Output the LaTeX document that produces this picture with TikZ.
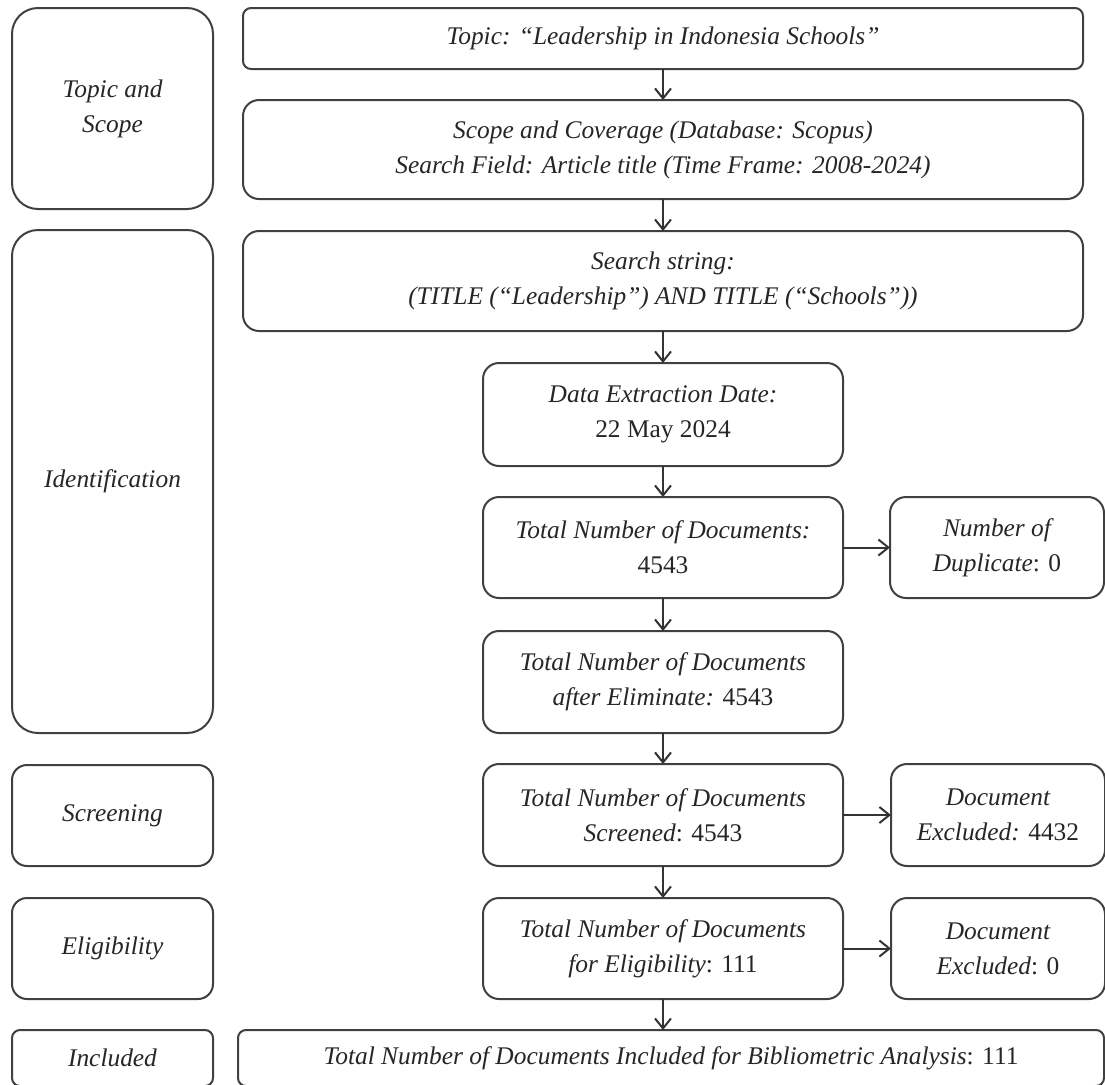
\documentclass[tikz,border=0pt]{standalone}
\usepackage{fontspec}
\setmainfont{Liberation Serif}
\usetikzlibrary{shapes,arrows.meta,positioning}

\begin{document}
\begin{tikzpicture}[x=0.5pt,y=-0.5pt]
    % Define Styles
        \tikzstyle{block} = [rectangle, draw=black!75, fill=white, align=center, inner sep=0pt, outer sep=0pt, rounded corners=8pt, line width=0.1em, text=black!85, font=\fontsize{12.7}{17.5}\selectfont\itshape]
        \tikzstyle{wide} = [block, minimum width=420pt]
        \tikzstyle{mid} = [block, minimum width=180pt]
        \tikzstyle{side} = [block, minimum width=107pt]
        \tikzstyle{stage} = [block, minimum width=100.5pt, rounded corners=7.5pt]
        \tikzstyle{line} = [draw=black!80, -{Straight Barb[length=5pt,width=8pt]}, line width=0.1em]
        \path[use as bounding box, clip] (0,0) rectangle (1105,1084);
    % Stages on the left
        \node [stage, minimum height=100.5pt, rounded corners=13pt] (topicscope) at (112.5,108.5) {Topic and\\Scope};
        \node [stage, minimum height=251.5pt, rounded corners=13pt] (identification) at (112.5,481.5) {Identification};
        \node [stage, minimum height=50.5pt] (screening) at (112.5,815.5) {Screening};
        \node [stage, minimum height=50.5pt] (eligibility) at (112.5,948.5) {Eligibility};
        \node [stage, minimum height=28pt, rounded corners=4pt] (included) at (112.5,1058) {Included};
    % Place nodes
        \node [wide, minimum height=30.5pt, rounded corners=4pt] (topic) at (663,38.5) {Topic: “Leadership in Indonesia Schools”};
        \node [wide, minimum height=49.5pt, below = 15.5pt of topic] (scope) {Scope and Coverage (Database: Scopus)\\Search Field: Article title (Time Frame: 2008-2024)};
        \node [wide, minimum height=50pt, below = 16pt of scope] (search) {Search string:\\(TITLE (“Leadership”) AND TITLE (“Schools”))};
        \node [mid, minimum height=51.5pt, below = 16pt of search] (extract) {Data Extraction Date:\\\textup{22 May 2024}};
        \node [mid, minimum height=50.5pt, below = 15.5pt of extract] (total) {Total Number of Documents:\\\textup{4543}};
        \node [side, minimum height=50.5pt, right = 23.5pt of total] (duplicate) {Number of\\Duplicate\textup{: 0}};
        \node [mid, minimum height=51pt, below = 16.5pt of total] (eliminate) {Total Number of Documents\\after Eliminate: \textup{4543}};
        \node [mid, minimum height=51pt, below = 15.5pt of eliminate] (screened) {Total Number of Documents\\Screened\textup{: 4543}};
        \node [side, minimum height=51pt, right = 24pt of screened] (excluded) {Document\\Excluded: \textup{4432}};
        \node [mid, minimum height=50.5pt, below = 16pt of screened] (eligible) {Total Number of Documents\\for Eligibility\textup{: 111}};
        \node [side, minimum height=50.5pt, right = 24pt of eligible] (excludedtwo) {Document\\Excluded\textup{: 0}};
        \node [block, minimum width=433pt, minimum height=28pt, rounded corners=4pt, below = 15.5pt of eligible, xshift=4pt] (final) {Total Number of Documents Included for Bibliometric Analysis\textup{: 111}};
    % Edges
        \draw[line] (topic) -- (scope);
        \draw[line] (scope) -- (search);
        \draw[line] (search) -- (extract);
        \draw[line] (extract) -- (total);
        \draw[line] (total) -- (duplicate);
        \draw[line] (total) -- (eliminate);
        \draw[line] (eliminate) -- (screened);
        \draw[line] (screened) -- (excluded);
        \draw[line] (screened) -- (eligible);
        \draw[line] (eligible) -- (excludedtwo);
        \draw[line] (eligible.south) -- (eligible.south |- final.north);
    \end{tikzpicture}
\end{document}
